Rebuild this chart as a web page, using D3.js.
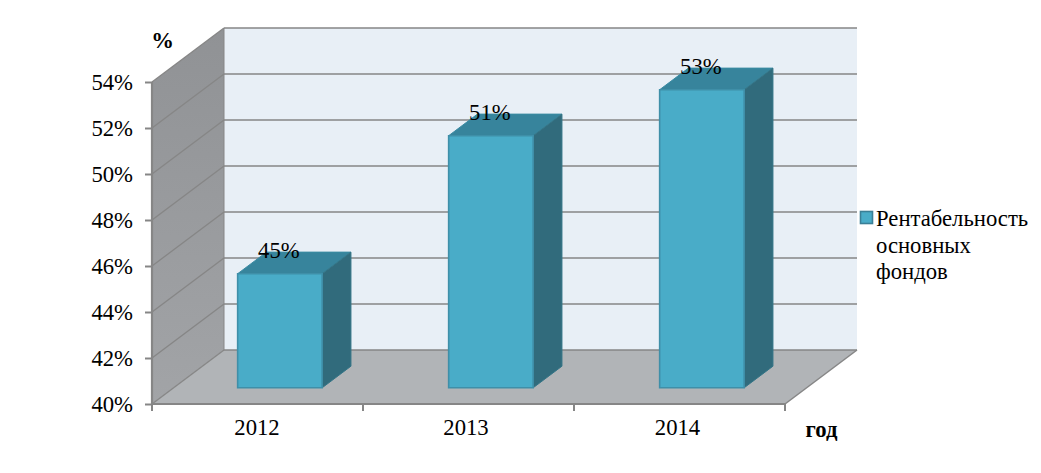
<!DOCTYPE html>
<html><head><meta charset="utf-8">
<script src="https://cdn.jsdelivr.net/npm/d3@7/dist/d3.min.js"></script>
<style>html,body{margin:0;padding:0;background:#fff}svg{display:block}text{font-family:"Liberation Serif",serif;fill:#000}</style>
</head><body><svg id="c" width="1041" height="473"></svg>
<script>
const categories = ["2012","2013","2014"];
const values = [44.96,50.96,52.96];
const labels = ["45%","51%","53%"];
const yTicks = [40,42,44,46,48,50,52,54];
const legendLines = ["Рентабельность","основных","фондов"];

const svg = d3.select("#c");
const fs = 22.7;
const x = d3.scaleBand().domain(categories).range([152,785]).paddingInner(0).paddingOuter(0);
const y = d3.scaleLinear().domain([40,54]).range([404,82]);
const depthX = d3.scaleLinear().domain([0,1]).range([0,72]);
const depthY = d3.scaleLinear().domain([0,1]).range([0,-54]);
const P = (px,v,d) => [px+depthX(d), y(v)+depthY(d)];
const poly = (pts,fill,stroke,sw) => svg.append("polygon").attr("points",pts.map(p=>p.join(",")).join(" "))
  .attr("fill",fill).attr("stroke",stroke||"none").attr("stroke-width",sw||0);
const [xa,xb]=x.range(), [va,vb]=y.domain();
const grid="#868686";

// walls
poly([P(xa,va,1),P(xb,va,1),P(xb,vb,1),P(xa,vb,1)],"#e8eff6");
poly([P(xa,va,0),P(xa,va,1),P(xa,vb,1),P(xa,vb,0)],"url(#side)");
const defs=svg.append("defs");
const g=defs.append("linearGradient").attr("id","side").attr("x1",0).attr("y1",0).attr("x2",0).attr("y2",1);
g.append("stop").attr("offset",0).attr("stop-color","#909295");
g.append("stop").attr("offset",1).attr("stop-color","#a2a4a7");
poly([P(xa,va,0),P(xb,va,0),P(xb,va,1),P(xa,va,1)],"#b1b4b7");

const line=(a,b,w)=>svg.append("line").attr("x1",a[0]).attr("y1",a[1]).attr("x2",b[0]).attr("y2",b[1]).attr("stroke",grid).attr("stroke-width",w);
yTicks.forEach(t=>{
  line(P(xa,t,0),P(xa,t,1),1.3);
  line(P(xa,t,1),P(xb,t,1),1.5);
});
line(P(xb,va,0),P(xb,va,1),1.5);
line(P(xa,vb,1),P(xa,va,1),1);

// axes
const yAxis=d3.axisLeft(y).tickValues(yTicks).tickSize(7).tickPadding(12).tickFormat(d=>d+"%");
const ya=svg.append("g").attr("transform",`translate(${xa},0)`).call(yAxis);
const xAxis=d3.axisBottom(x).tickSize(0).tickPadding(15);
const xg=svg.append("g").attr("transform",`translate(0,${y(va)})`).call(xAxis);
[ya,xg].forEach(s=>{s.selectAll("path").attr("stroke",grid).attr("stroke-width",2.2);
  s.selectAll("line").attr("stroke",grid).attr("stroke-width",2);
  s.selectAll("text").attr("font-family","Liberation Serif").attr("font-size",fs).attr("fill","#000");});
ya.select("path").attr("d",`M0,${y(vb)}V${y(va)}`);
xg.select("path").attr("d",`M${xa},0H${xb}`);
categories.concat(["end"]).forEach((c,i)=>{
  const px=i<3?x(c):xb;
  xg.append("line").attr("x1",px).attr("x2",px).attr("y1",0).attr("y2",7).attr("stroke",grid).attr("stroke-width",2);
});
xg.selectAll(".tick text").attr("dx",(d,i)=>[-0.5,-2.5,-2][i]);

// bars
const d0=0.3, d1=0.7;
const barW=84.5, barOff=x.bandwidth()/2-barW/2+0.8;
categories.forEach((c,i)=>{
  const l=x(c)+barOff, r=l+barW, v=values[i];
  const a=P(l,va,d0), b=P(r,va,d0), e=P(r,v,d0), f=P(l,v,d0), g2=P(r,v,d1), h=P(l,v,d1), k=P(r,va,d1);
  poly([f,h,g2,e],"#37849c","#3a8ba3",1);
  poly([b,k,g2,e],"#316b7c","#347587",1);
  poly([a,b,e,f],"#49acc8","#3f8fa8",1.6);
  svg.append("text").attr("x",(a[0]+b[0])/2-1).attr("y",f[1]-16).attr("text-anchor","middle").attr("font-size",fs).text(labels[i]);
});

// titles
svg.append("text").attr("x",162.5).attr("y",48).attr("text-anchor","middle").attr("font-size",fs).attr("font-weight","bold").text("%");
svg.append("text").attr("x",821.5).attr("y",437).attr("text-anchor","middle").attr("font-size",fs).attr("font-weight","bold").text("год");

// legend
svg.append("rect").attr("x",860.5).attr("y",211.5).attr("width",12).attr("height",12).attr("fill","#49acc8").attr("stroke","#3a7f96").attr("stroke-width",1.6);
const lt=svg.append("text").attr("font-size",fs);
legendLines.forEach((s,i)=>lt.append("tspan").attr("x",876).attr("y",226+i*26.5).text(s));
</script></body></html>
